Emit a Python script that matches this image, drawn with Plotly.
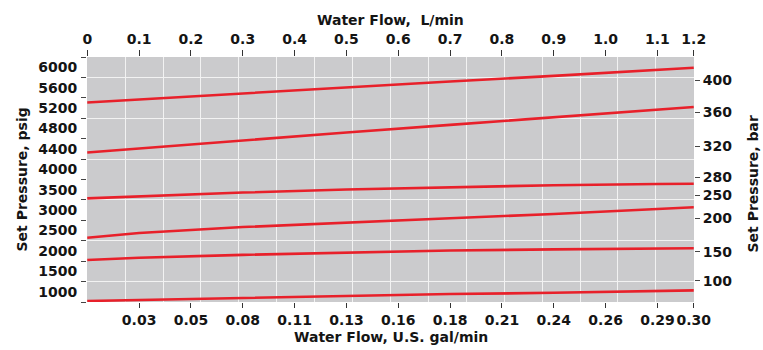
import numpy as np
import plotly.graph_objects as go

# ---------------- data ----------------
flow_lmin = [0, 0.1, 0.3, 0.5, 0.7, 0.9, 1.1, 1.17]   # L/min (right edge of chart = 1.17)

line1_psi = [5310, 5370, 5490, 5600, 5720, 5830, 5950, 5990]
line2_psi = [4330, 4410, 4560, 4720, 4870, 5020, 5170, 5220]
line3_psi = [3288, 3339, 3430, 3505, 3565, 3610, 3640, 3647]
line4_psi = [2325, 2440, 2585, 2700, 2800, 2905, 3020, 3070]
line5_psi = [1780, 1835, 1905, 1965, 2010, 2040, 2060, 2065]
line6_psi = [775, 800, 860, 905, 945, 975, 1010, 1035]
series = [line1_psi, line2_psi, line3_psi, line4_psi, line5_psi, line6_psi]

psi_labels = [1000, 1500, 2000, 2500, 3000, 3500, 4000, 4400, 4800, 5200, 5600, 6000]
bar_labels = [100, 150, 200, 250, 280, 320, 360, 400]
top_tick_labels = ["0", "0.1", "0.2", "0.3", "0.4", "0.5", "0.6", "0.7", "0.8",
                   "0.9", "1.0", "1.1", "1.2"]
bottom_tick_labels = ["0.03", "0.05", "0.08", "0.11", "0.13", "0.16", "0.18",
                      "0.21", "0.24", "0.26", "0.29", "0.30"]

# ---------------- axis scales ----------------
FLOW_MAX = 1.17                      # chart right edge, L/min
top_tick_vals = [round(0.1 * i, 2) for i in range(12)] + [FLOW_MAX]
bottom_tick_vals = top_tick_vals[1:]

# left psi scale is non-linear: each label occupies one equal band
psi_anchor = [500] + psi_labels + [6400]
pos_anchor = [-0.5] + [i + 0.5 for i in range(len(psi_labels))] + [12.5]


def psi_to_axis(p):
    return np.interp(p, psi_anchor, pos_anchor)


# right bar scale calibration (axis band units)
bar_axis_cal = [1.03, 2.45, 4.11, 5.24, 6.12, 7.64, 9.30, 10.87]

# ---------------- figure ----------------
FONT = "DejaVu Sans"
TXT = "#141414"
fig = go.Figure()

for s in series:
    fig.add_trace(go.Scatter(
        x=flow_lmin, y=psi_to_axis(s), mode="lines",
        line=dict(color="#e8202a", width=2.6),
        hoverinfo="skip", showlegend=False,
        xaxis="x", yaxis="y"))

tickfont = dict(family=FONT, size=14, color=TXT, weight="bold")
xr = [-0.0005, FLOW_MAX + 0.0005]
yr = [0, 12]

fig.update_layout(
    width=763, height=350,
    margin=dict(l=87, r=69, t=57, b=48, autoexpand=False),
    paper_bgcolor="white", plot_bgcolor="#cbcbcd",
    xaxis=dict(range=xr, tickmode="linear", tick0=0, dtick=FLOW_MAX / 16,
               showgrid=True, gridcolor="#f2f2f2", gridwidth=1.2,
               showticklabels=False, ticks="", zeroline=False, showline=False),
    xaxis2=dict(range=xr, overlaying="x", side="top", anchor="y",
                tickmode="array", tickvals=top_tick_vals, ticktext=top_tick_labels,
                ticks="outside", ticklen=6, tickwidth=1, tickcolor="#333", tickangle=0,
                showgrid=False, zeroline=False, tickfont=tickfont, automargin=False),
    xaxis3=dict(range=xr, overlaying="x", side="bottom", anchor="y",
                tickmode="array", tickvals=bottom_tick_vals, ticktext=bottom_tick_labels,
                ticks="outside", ticklen=5, tickwidth=1, tickcolor="#333", tickangle=0,
                showgrid=False, zeroline=False, tickfont=tickfont, automargin=False),
    yaxis=dict(range=yr, tickmode="linear", tick0=1, dtick=2,
               showgrid=True, gridcolor="#f2f2f2", gridwidth=1.2,
               showticklabels=False, ticks="", zeroline=False, showline=False),
    yaxis2=dict(range=yr, overlaying="y", side="left", anchor="x",
                tickmode="array", tickvals=[i + 0.5 for i in range(len(psi_labels))],
                ticktext=[str(v) for v in psi_labels],
                ticks="outside", ticklen=6, tickcolor="rgba(0,0,0,0)",
                showgrid=False, zeroline=False, tickfont=tickfont, automargin=False),
    yaxis3=dict(range=yr, overlaying="y", side="left", anchor="x",
                tickmode="linear", tick0=0, dtick=1,
                ticks="outside", ticklen=5, tickwidth=1, tickcolor="#444",
                showticklabels=False, showgrid=False, zeroline=False),
    yaxis4=dict(range=yr, overlaying="y", side="right", anchor="x",
                tickmode="array", tickvals=bar_axis_cal,
                ticktext=[str(v) for v in bar_labels],
                ticks="outside", ticklen=5, tickwidth=1, tickcolor="#444",
                showgrid=False, zeroline=False, tickfont=tickfont, automargin=False),
)

# dummy invisible traces so the overlay axes render
for xa, ya in [("x2", "y"), ("x3", "y"), ("x", "y2"), ("x", "y3"), ("x", "y4")]:
    fig.add_trace(go.Scatter(x=[None], y=[None], xaxis=xa, yaxis=ya,
                             showlegend=False, hoverinfo="skip"))

titlefont = dict(family=FONT, size=14, color=TXT, weight="bold")
fig.add_annotation(text="Water Flow,  L/min", xref="paper", yref="paper",
                   x=0.5, y=1, xanchor="center", yanchor="middle", yshift=37,
                   showarrow=False, font=titlefont)
fig.add_annotation(text="Water Flow, U.S. gal/min", xref="paper", yref="paper",
                   x=0.5, y=0, xanchor="center", yanchor="middle", yshift=-35,
                   showarrow=False, font=titlefont)
fig.add_annotation(text="Set Pressure, psig", xref="paper", yref="paper",
                   x=0, y=0.5, xanchor="center", yanchor="middle", xshift=-66,
                   textangle=-90, showarrow=False, font=titlefont)
fig.add_annotation(text="Set Pressure, bar", xref="paper", yref="paper",
                   x=1, y=0.5, xanchor="center", yanchor="middle", xshift=58, yshift=-5,
                   textangle=-90, showarrow=False, font=titlefont)

fig.write_html("out.html")
